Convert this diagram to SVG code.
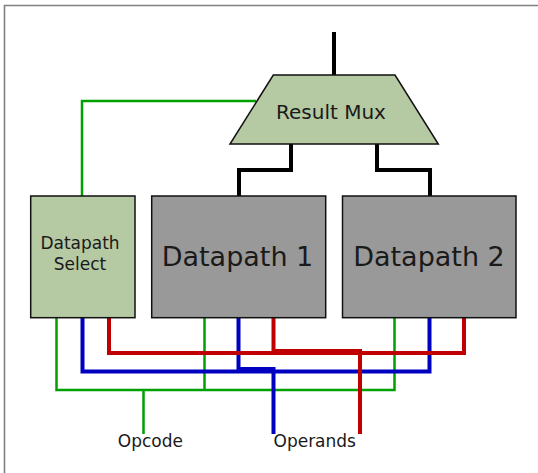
<svg xmlns="http://www.w3.org/2000/svg" width="538" height="473" viewBox="0 0 538 473">
<style>
text{font-family:"DejaVu Sans","Liberation Sans",sans-serif;fill:#1a1a1a}
.box{stroke:#111;stroke-width:1.5}
.sel{fill:#b5c9a3}
.dp{fill:#999999}
.w{fill:none;stroke-linejoin:miter;stroke-linecap:butt}
.k{stroke:#000;stroke-width:4}
.g{stroke:#00a000;stroke-width:2.5}
.b{stroke:#0000c0;stroke-width:4}
.r{stroke:#c00000;stroke-width:4}
</style>
<rect width="538" height="473" fill="#fff"/>
<path d="M4.5,473 V5.5 H538" fill="none" stroke="#808080" stroke-width="1.6"/>
<g id="connectors">
<path class="w k" d="M334,32 V75"/>
<path class="w k" d="M291,144 V170 H239 V196"/>
<path class="w k" d="M377,144 V170 H430 V196"/>
<path class="w g" d="M256,101 H82 V196"/>
<path class="w g" d="M56.5,318 V390 H394.5 V318"/>
<path class="w g" d="M204.5,318 V390"/>
<path class="w g" d="M143.5,390 V434"/>
<path class="w b" d="M82.5,318 V371.5 H429.5 V318"/>
<path class="w b" d="M238.5,318 V369 H273.5 V434"/>
<path class="w r" d="M109,318 V353 H464 V318"/>
<path class="w r" d="M273.5,318 V351 H360 V434"/>
</g>
<g id="result-mux">
<polygon class="box sel" points="273.3,75 395,75 438.3,144 230,144"/>
<text x="331" y="119" font-size="20" text-anchor="middle">Result Mux</text>
</g>
<g id="datapath-select">
<rect class="box sel" x="30.7" y="196" width="104.3" height="121.7"/>
<text x="80" y="249" font-size="17" text-anchor="middle">Datapath</text>
<text x="80" y="270" font-size="17" text-anchor="middle">Select</text>
</g>
<g id="datapath-1">
<rect class="box dp" x="151.7" y="196" width="174" height="121.7"/>
<text x="237.5" y="266" font-size="27" text-anchor="middle">Datapath 1</text>
</g>
<g id="datapath-2">
<rect class="box dp" x="342.5" y="196" width="173.5" height="121.7"/>
<text x="429" y="266" font-size="27" text-anchor="middle">Datapath 2</text>
</g>
<g id="labels">
<text x="150.4" y="447" font-size="17" text-anchor="middle">Opcode</text>
<text x="273.5" y="447" font-size="17">Operands</text>
</g>
</svg>
